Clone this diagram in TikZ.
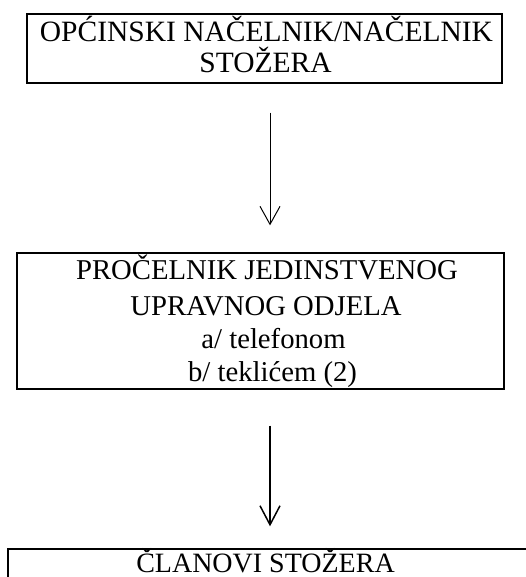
\documentclass[tikz,border=0pt]{standalone}
\usepackage{fontspec}
\setmainfont{Liberation Serif}
\usetikzlibrary{arrows.meta}
\tikzset{
  boxframe/.style={draw=black, line width=1.3pt, rectangle, inner sep=0pt, fill=none},
  linetxt/.style={anchor=base, inner sep=0pt, font=\fontsize{29}{34}\selectfont},
  arrthin/.style={line width=1pt, -{Straight Barb[length=18pt, width=20pt, line width=1pt]}},
  arrthick/.style={line width=1.7pt, -{Straight Barb[length=19pt, width=20pt, line width=1.5pt]}}
}
\begin{document}
\begin{tikzpicture}[x=1pt, y=-1pt]
  \useasboundingbox[fill=white] (0,0) rectangle (525,577);
  % boxes
  \node[boxframe, minimum width=475pt, minimum height=69pt] (b1) at (264.5,48.5) {};
  \node[boxframe, minimum width=487pt, minimum height=136pt] (b2) at (260.5,321) {};
  \node[boxframe, minimum width=560pt, minimum height=80pt] (b3) at (288,589) {};
  % texts of box 1
  \node[linetxt, font=\fontsize{29.5}{30}\selectfont] (t1a) at (266.5,42) {OPĆINSKI NAČELNIK/NAČELNIK};
  \node[linetxt, font=\fontsize{29.5}{30}\selectfont] (t1b) at (265.5,72.5) {STOŽERA};
  % texts of box 2
  \node[linetxt, font=\fontsize{28.7}{34}\selectfont] (t2a) at (267,279.3) {PROČELNIK JEDINSTVENOG};
  \node[linetxt, font=\fontsize{28.7}{34}\selectfont] (t2b) at (266,315) {UPRAVNOG ODJELA};
  \node[linetxt, font=\fontsize{28.7}{34}\selectfont] (t2c) at (273.5,348.3) {a/ telefonom};
  \node[linetxt, font=\fontsize{28.7}{34}\selectfont] (t2d) at (272.5,381.7) {b/ teklićem (2)};
  % text of box 3
  \node[linetxt, font=\fontsize{28}{34}\selectfont] (t3a) at (265.5,572) {ČLANOVI STOŽERA};
  % connectors
  \coordinate (ax) at (270,0);
  \draw[arrthin, shorten <=29pt, shorten >=27pt] (b1.south -| ax) -- (b2.north -| ax);
  \draw[arrthick, shorten <=36pt, shorten >=22pt] (b2.south -| ax) -- (b3.north -| ax);
\end{tikzpicture}
\end{document}
